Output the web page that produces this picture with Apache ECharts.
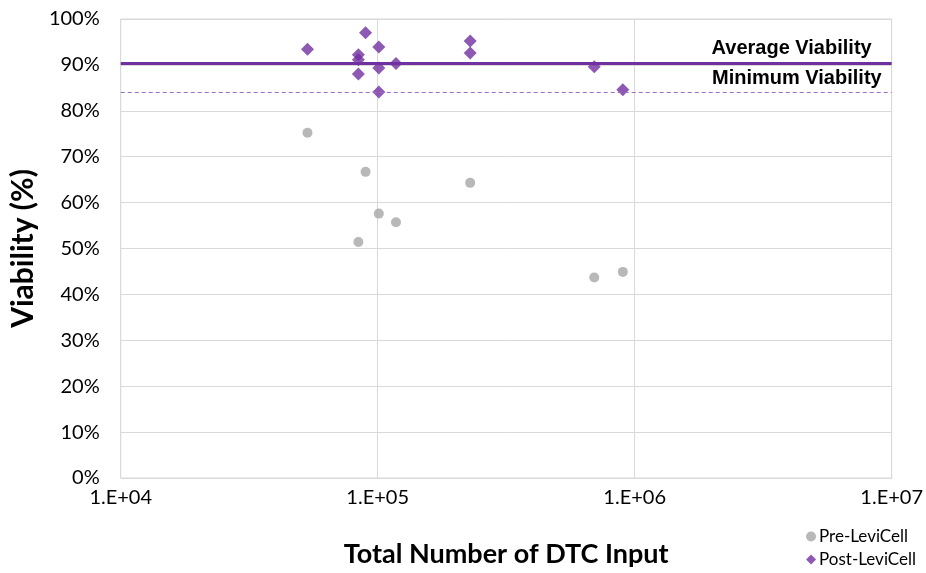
<!DOCTYPE html>
<html>
<head>
<meta charset="utf-8">
<script src="https://cdn.jsdelivr.net/npm/echarts@6/dist/echarts.min.js"></script>
<style>html,body{margin:0;padding:0;background:#fff;}#c{width:926px;height:573px;}</style>
</head>
<body>
<div id="c"></div>
<script>
// Data
const preX = [53300, 89700, 229000, 101000, 117800, 84100, 696000, 899000];
const preY = [75.2, 66.7, 64.3, 57.6, 55.7, 51.4, 43.7, 44.9];
const postX = [53300, 89700, 84100, 84100, 84100, 101000, 101000, 101000, 117800, 229000, 229000, 696000, 899000];
const postY = [93.4, 97.0, 92.2, 91.1, 88.0, 93.9, 89.3, 84.1, 90.3, 95.2, 92.6, 89.6, 84.6];
const averageViability = 90.3;
const minimumViability = 84.1;
const xTickLabels = {10000: '1.E+04', 100000: '1.E+05', 1000000: '1.E+06', 10000000: '1.E+07'};

const font = 'Lato, "Liberation Sans", sans-serif';
const chart = echarts.init(document.getElementById('c'));
chart.setOption({
  animation: false,
  backgroundColor: '#fff',
  grid: {left: 118, right: 33, top: 19, bottom: 94, show: true, borderColor: '#d9d9d9', borderWidth: 1},
  xAxis: {
    type: 'log', min: 10000, max: 10000000, logBase: 10,
    name: 'Total Number of DTC Input', nameLocation: 'middle', nameGap: 63,
    nameTextStyle: {fontFamily: font, fontSize: 27, fontWeight: 'bold', color: '#000'},
    axisLine: {show: false}, axisTick: {show: false},
    splitLine: {show: true, lineStyle: {color: '#d9d9d9', width: 1}},
    axisLabel: {fontFamily: font, fontSize: 20, color: '#000', margin: 10,
      formatter: v => xTickLabels[Math.round(v)] || ''}
  },
  yAxis: {
    type: 'value', min: 0, max: 100, interval: 10,
    name: 'Viability (%)', nameLocation: 'middle', nameGap: 82,
    nameTextStyle: {fontFamily: font, fontSize: 30, fontWeight: 'bold', color: '#000'},
    axisLine: {show: false}, axisTick: {show: false},
    splitLine: {show: true, lineStyle: {color: '#d9d9d9', width: 1}},
    axisLabel: {fontFamily: font, fontSize: 20, color: '#000', margin: 21, formatter: v => v + '%'}
  },
  legend: {
    orient: 'vertical', right: 5, bottom: 0, itemGap: 6, itemWidth: 10, itemHeight: 10,
    textStyle: {fontFamily: font, fontSize: 17, color: '#000', padding: [0, 0, 0, -2]},
    data: [{name: 'Pre-LeviCell', icon: 'circle', itemStyle: {color: '#a6a6a6'}},
           {name: 'Post-LeviCell', icon: 'diamond', itemStyle: {color: '#7030a0'}}]
  },
  series: [
    {
      name: 'Pre-LeviCell', type: 'scatter', symbol: 'circle', symbolSize: 10,
      itemStyle: {color: '#a6a6a6'},
      data: preX.map((x, i) => [x, preY[i]])
    },
    {
      name: 'Post-LeviCell', type: 'scatter', symbol: 'diamond', symbolSize: 13,
      itemStyle: {color: '#7030a0'}, z: 3,
      data: postX.map((x, i) => [x, postY[i]]),
      markLine: {
        silent: true, symbol: 'none', animation: false,
        data: [
          {yAxis: averageViability,
           lineStyle: {color: '#7030a0', width: 3, type: 'solid'},
           label: {show: true, position: 'insideEndTop', formatter: 'Average Viability', distance: [20, 5],
             fontFamily: '"Liberation Sans", Arial, sans-serif', fontSize: 20, fontWeight: 'bold', color: '#000'}},
          {yAxis: minimumViability,
           lineStyle: {color: '#9b6fc4', width: 1.2, type: [4, 3]},
           label: {show: true, position: 'insideEndTop', formatter: 'Minimum Viability', distance: [10, 3],
             fontFamily: '"Liberation Sans", Arial, sans-serif', fontSize: 20, fontWeight: 'bold', color: '#000'}}
        ]
      }
    }
  ]
});
</script>
</body>
</html>
